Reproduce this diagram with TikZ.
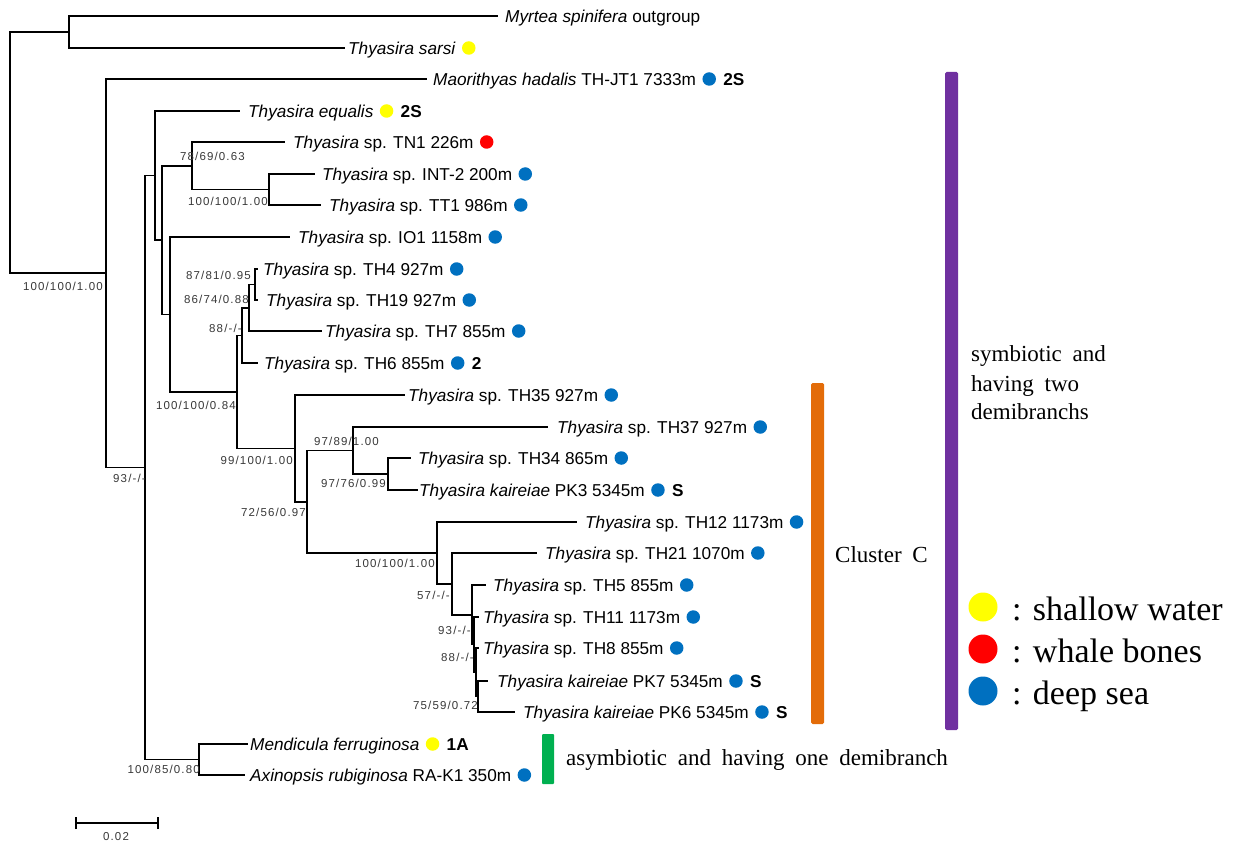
\documentclass[tikz,border=0pt]{standalone}
\usepackage{fontspec}
\usetikzlibrary{positioning}
\newfontfamily\arialfont{Liberation Sans}
\newfontfamily\bsfont[LetterSpace=10]{Liberation Sans}
\newfontfamily\timesfont{Liberation Serif}
\newfontfamily\legendfont{Liberation Serif}
\newcommand\widespace{\spaceskip 10.8pt\relax}
\definecolor{shallow}{HTML}{FFFF00}
\definecolor{whale}{HTML}{FF0000}
\definecolor{deep}{HTML}{0070C0}
\definecolor{clusterC}{HTML}{E36C09}
\definecolor{symb}{HTML}{7030A0}
\definecolor{asymb}{HTML}{00B050}

\begin{document}
\begin{tikzpicture}[x=1pt, y=-1pt]
	\tikzstyle{branch}=[line width=1.7pt, draw=black]
	\tikzstyle{leaf}=[anchor=west, inner sep=0pt, text height=12.3pt, text depth=0pt, font=\arialfont\fontsize{17.2}{20}\selectfont]
	\tikzstyle{extra}=[leaf, font=\arialfont\bfseries\fontsize{17.2}{20}\selectfont]
	\tikzstyle{dot}=[circle, inner sep=0pt, minimum size=13.5pt]
	\tikzstyle{support}=[anchor=east, inner sep=0pt, text=black!78, font=\bsfont\fontsize{11.5}{13}\selectfont]
	\tikzstyle{note}=[anchor=base west, inner sep=0pt, font=\timesfont\fontsize{23}{28}\selectfont\widespace]
	\tikzstyle{legdot}=[circle, inner sep=0pt, minimum size=29pt]
	\tikzstyle{legtext}=[anchor=base west, inner sep=0pt, font=\legendfont\fontsize{34}{40}\selectfont]

	\useasboundingbox (0,0) rectangle (1241,845);

	% internal nodes
	\coordinate (root) at (10,152.6);
	\coordinate (nA) at (69,32);
	\coordinate (nB) at (106,273.3);
	\coordinate (nC) at (145,467.5);
	\coordinate (nD) at (199,759.5);
	\coordinate (nE) at (155,175.6);
	\coordinate (nF) at (162,240.1);
	\coordinate (nG) at (192,165.75);
	\coordinate (nH) at (269,189.5);
	\coordinate (nI) at (170,314.5);
	\coordinate (nJ) at (237,391.9);
	\coordinate (nK) at (242,335.4);
	\coordinate (nL) at (249,307.75);
	\coordinate (nM) at (255,284.5);
	\coordinate (nN) at (295,448.4);
	\coordinate (nO) at (307,501.7);
	\coordinate (nP) at (353,450.5);
	\coordinate (nQ) at (388,474);
	\coordinate (nR) at (437,552.95);
	\coordinate (nS) at (452,583.9);
	\coordinate (nT) at (472,614.8);
	\coordinate (nU) at (474,644.6);
	\coordinate (nV) at (476,672.25);
	\coordinate (nW) at (478,696.5);

	% branch tips
	\coordinate (t1) at (498,16);
	\coordinate (t2) at (345,48);
	\coordinate (t3) at (427,79);
	\coordinate (t4) at (240,111);
	\coordinate (t5) at (285,142);
	\coordinate (t6) at (315,174);
	\coordinate (t7) at (321,205);
	\coordinate (t8) at (290,237);
	\coordinate (t9) at (258,269);
	\coordinate (t10) at (258,300);
	\coordinate (t11) at (322,331);
	\coordinate (t12) at (258,363);
	\coordinate (t13) at (405,395);
	\coordinate (t14) at (548,427);
	\coordinate (t15) at (411,458);
	\coordinate (t16) at (418,490);
	\coordinate (t17) at (577,522);
	\coordinate (t18) at (537,553);
	\coordinate (t19) at (486,585);
	\coordinate (t20) at (479,617);
	\coordinate (t21) at (479,648);
	\coordinate (t22) at (488,681);
	\coordinate (t23) at (515,712);
	\coordinate (t24) at (248,744);
	\coordinate (t25) at (245,775);

	% tree
	\draw[branch] (root) |- (nA);
	\draw[branch] (root) |- (nB);
	\draw[branch] (nA) |- (t1);
	\draw[branch] (nA) |- (t2);
	\draw[branch] (nB) |- (t3);
	\draw[branch] (nB) |- (nC);
	\draw[branch] (nC) |- (nE);
	\draw[branch] (nC) |- (nD);
	\draw[branch] (nD) |- (t24);
	\draw[branch] (nD) |- (t25);
	\draw[branch] (nE) |- (t4);
	\draw[branch] (nE) |- (nF);
	\draw[branch] (nF) |- (nG);
	\draw[branch] (nF) |- (nI);
	\draw[branch] (nG) |- (t5);
	\draw[branch] (nG) |- (nH);
	\draw[branch] (nH) |- (t6);
	\draw[branch] (nH) |- (t7);
	\draw[branch] (nI) |- (t8);
	\draw[branch] (nI) |- (nJ);
	\draw[branch] (nJ) |- (nK);
	\draw[branch] (nJ) |- (nN);
	\draw[branch] (nK) |- (nL);
	\draw[branch] (nK) |- (t12);
	\draw[branch] (nL) |- (nM);
	\draw[branch] (nL) |- (t11);
	\draw[branch] (nM) |- (t9);
	\draw[branch] (nM) |- (t10);
	\draw[branch] (nN) |- (t13);
	\draw[branch] (nN) |- (nO);
	\draw[branch] (nO) |- (nP);
	\draw[branch] (nO) |- (nR);
	\draw[branch] (nP) |- (t14);
	\draw[branch] (nP) |- (nQ);
	\draw[branch] (nQ) |- (t15);
	\draw[branch] (nQ) |- (t16);
	\draw[branch] (nR) |- (t17);
	\draw[branch] (nR) |- (nS);
	\draw[branch] (nS) |- (t18);
	\draw[branch] (nS) |- (nT);
	\draw[branch] (nT) |- (t19);
	\draw[branch] (nT) |- (nU);
	\draw[branch] (nU) |- (t20);
	\draw[branch] (nU) |- (nV);
	\draw[branch] (nV) |- (t21);
	\draw[branch] (nV) |- (nW);
	\draw[branch] (nW) |- (t22);
	\draw[branch] (nW) |- (t23);

	% support values
	\node[support] (b0) at (103,286) {100/100/1.00};
	\node[support] (bC) at (146,478) {93/-/-};
	\node[support] (bD) at (200,769) {100/85/0.80};
	\node[support] (bG) at (245,156) {78/69/0.63};
	\node[support] (bH) at (268,201) {100/100/1.00};
	\node[support] (bM) at (251,275) {87/81/0.95};
	\node[support] (bL) at (249,299) {86/74/0.88};
	\node[support] (bK) at (242,328) {88/-/-};
	\node[support] (bJ) at (236,405) {100/100/0.84};
	\node[support] (bN) at (293,460) {99/100/1.00};
	\node[support] (bO) at (306,512) {72/56/0.97};
	\node[support] (bP) at (379,441) {97/89/1.00};
	\node[support] (bQ) at (386,483) {97/76/0.99};
	\node[support] (bR) at (435,563) {100/100/1.00};
	\node[support] (bS) at (450,595) {57/-/-};
	\node[support] (bU) at (471,630) {93/-/-};
	\node[support] (bV) at (474,657) {88/-/-};
	\node[support] (bW) at (478,705) {75/59/0.72};

	% taxa
	\node[leaf] (l1) at (505,16) {\textit{Myrtea spinifera} outgroup};
	\node[leaf] (l2) at (348,48) {\textit{Thyasira sarsi}};
	\node[dot, fill=shallow, right=6pt of l2] (d2) {};
	\node[leaf] (l3) at (433,79) {\textit{Maorithyas hadalis} TH-JT1 7333m};
	\node[dot, fill=deep, right=6pt of l3] (d3) {};
	\node[extra, right=7pt of d3] (e3) {2S};
	\node[leaf] (l4) at (248,111) {\textit{Thyasira equalis}};
	\node[dot, fill=shallow, right=6pt of l4] (d4) {};
	\node[extra, right=7pt of d4] (e4) {2S};
	\node[leaf] (l5) at (293,142) {\textit{Thyasira} sp. TN1 226m};
	\node[dot, fill=whale, right=6pt of l5] (d5) {};
	\node[leaf] (l6) at (322,174) {\textit{Thyasira} sp. INT-2 200m};
	\node[dot, fill=deep, right=6pt of l6] (d6) {};
	\node[leaf] (l7) at (329,205) {\textit{Thyasira} sp. TT1 986m};
	\node[dot, fill=deep, right=6pt of l7] (d7) {};
	\node[leaf] (l8) at (298,237) {\textit{Thyasira} sp. IO1 1158m};
	\node[dot, fill=deep, right=6pt of l8] (d8) {};
	\node[leaf] (l9) at (263,269) {\textit{Thyasira} sp. TH4 927m};
	\node[dot, fill=deep, right=6pt of l9] (d9) {};
	\node[leaf] (l10) at (266,300) {\textit{Thyasira} sp. TH19 927m};
	\node[dot, fill=deep, right=6pt of l10] (d10) {};
	\node[leaf] (l11) at (325,331) {\textit{Thyasira} sp. TH7 855m};
	\node[dot, fill=deep, right=6pt of l11] (d11) {};
	\node[leaf] (l12) at (264,363) {\textit{Thyasira} sp. TH6 855m};
	\node[dot, fill=deep, right=6pt of l12] (d12) {};
	\node[extra, right=7pt of d12] (e12) {2};
	\node[leaf] (l13) at (408,395) {\textit{Thyasira} sp. TH35 927m};
	\node[dot, fill=deep, right=6pt of l13] (d13) {};
	\node[leaf] (l14) at (557,427) {\textit{Thyasira} sp. TH37 927m};
	\node[dot, fill=deep, right=6pt of l14] (d14) {};
	\node[leaf] (l15) at (418,458) {\textit{Thyasira} sp. TH34 865m};
	\node[dot, fill=deep, right=6pt of l15] (d15) {};
	\node[leaf] (l16) at (419,490) {\textit{Thyasira kaireiae} PK3 5345m};
	\node[dot, fill=deep, right=6pt of l16] (d16) {};
	\node[extra, right=7pt of d16] (e16) {S};
	\node[leaf] (l17) at (585,522) {\textit{Thyasira} sp. TH12 1173m};
	\node[dot, fill=deep, right=6pt of l17] (d17) {};
	\node[leaf] (l18) at (545,553) {\textit{Thyasira} sp. TH21 1070m};
	\node[dot, fill=deep, right=6pt of l18] (d18) {};
	\node[leaf] (l19) at (493,585) {\textit{Thyasira} sp. TH5 855m};
	\node[dot, fill=deep, right=6pt of l19] (d19) {};
	\node[leaf] (l20) at (483,617) {\textit{Thyasira} sp. TH11 1173m};
	\node[dot, fill=deep, right=6pt of l20] (d20) {};
	\node[leaf] (l21) at (483,648) {\textit{Thyasira} sp. TH8 855m};
	\node[dot, fill=deep, right=6pt of l21] (d21) {};
	\node[leaf] (l22) at (497,681) {\textit{Thyasira kaireiae} PK7 5345m};
	\node[dot, fill=deep, right=6pt of l22] (d22) {};
	\node[extra, right=7pt of d22] (e22) {S};
	\node[leaf] (l23) at (523,712) {\textit{Thyasira kaireiae} PK6 5345m};
	\node[dot, fill=deep, right=6pt of l23] (d23) {};
	\node[extra, right=7pt of d23] (e23) {S};
	\node[leaf] (l24) at (250,744) {\textit{Mendicula ferruginosa}};
	\node[dot, fill=shallow, right=6pt of l24] (d24) {};
	\node[extra, right=7pt of d24] (e24) {1A};
	\node[leaf] (l25) at (250,775) {\textit{Axinopsis rubiginosa} RA-K1 350m};
	\node[dot, fill=deep, right=6pt of l25] (d25) {};

	% scale bar
	\coordinate (sbL) at (76,823);
	\coordinate (sbR) at (158,823);
	\draw[branch] (sbL) -- (sbR);
	\draw[branch] ([yshift=-6pt]sbL) -- ([yshift=6pt]sbL);
	\draw[branch] ([yshift=-6pt]sbR) -- ([yshift=6pt]sbR);
	\node[support, anchor=center] (sbtext) at (116,837) {0.02};

	% groups
	\fill[clusterC, rounded corners=1.5pt] (811,383) rectangle (824,724);
	\fill[symb, rounded corners=1.5pt] (945,72) rectangle (958,730);
	\fill[asymb, rounded corners=1pt] (542,734) rectangle (554,784);
	\node[note] (clus) at (835,562) {Cluster C};
	\node[note] (sym1) at (971,361) {symbiotic and};
	\node[note] (sym2) at (971,391) {having two};
	\node[note] (sym3) at (971,419) {demibranchs};
	\node[note] (asym) at (566,765) {asymbiotic and having one demibranch};

	% legend
	\node[legdot, fill=shallow] (k1) at (983,607) {};
	\node[legdot, fill=whale] (k2) at (983,649) {};
	\node[legdot, fill=deep] (k3) at (983,691) {};
	\node[legtext] (k1t) at (1012,620) {: shallow water};
	\node[legtext] (k2t) at (1012,662) {: whale bones};
	\node[legtext] (k3t) at (1012,704) {: deep sea};
\end{tikzpicture}
\end{document}
